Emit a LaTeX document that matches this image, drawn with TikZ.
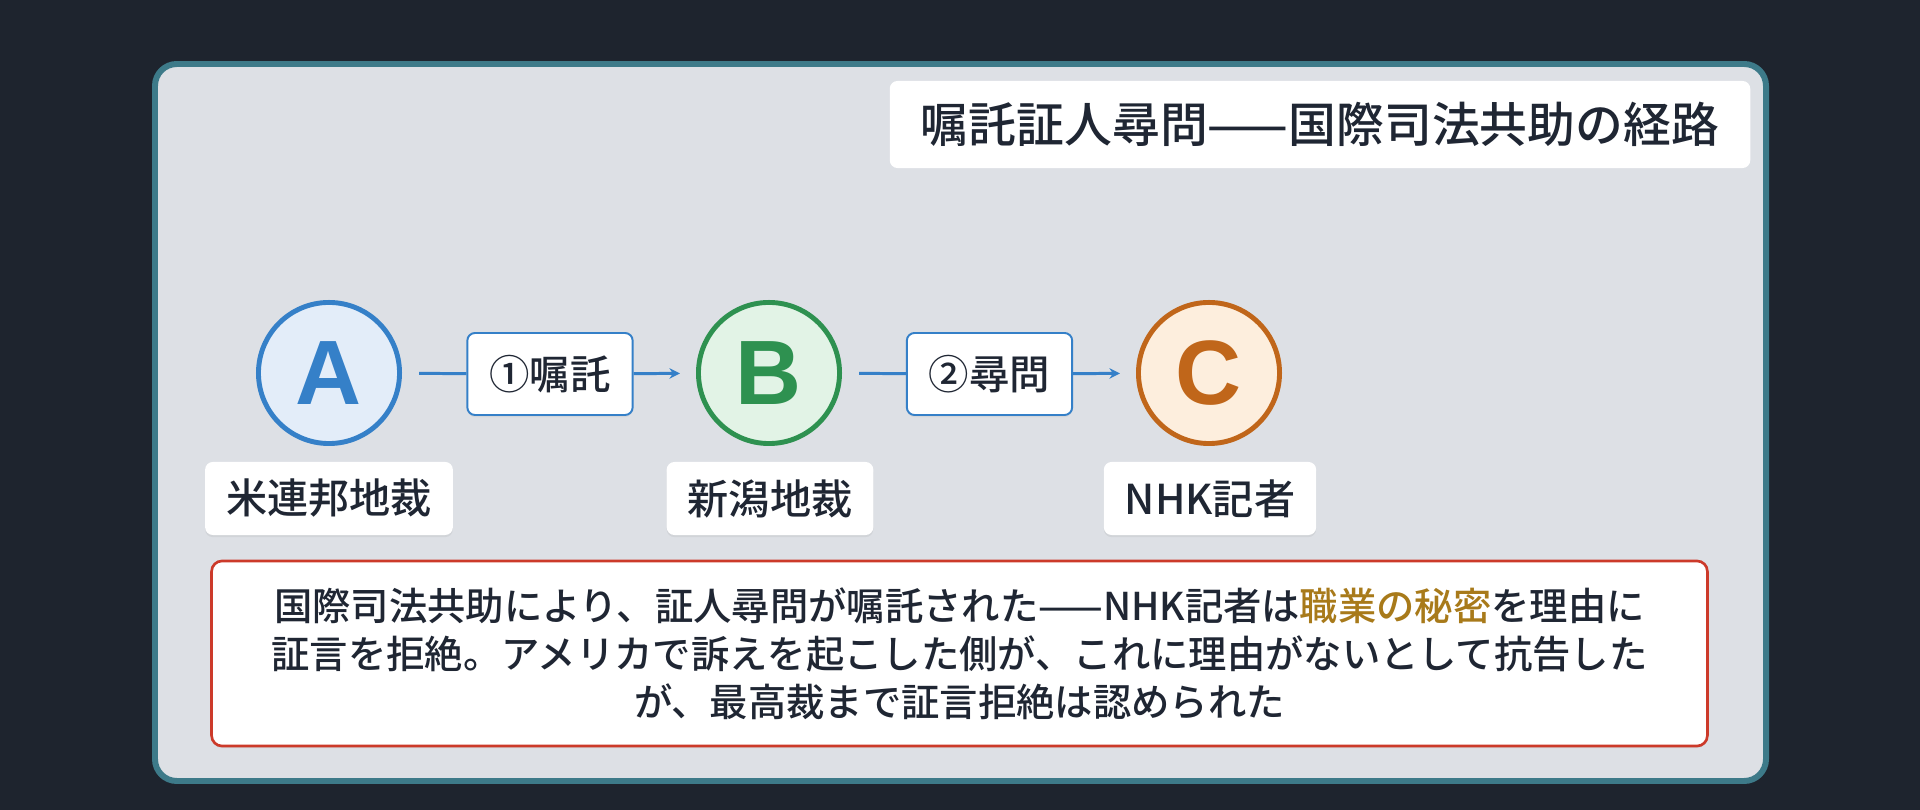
\documentclass[tikz,border=0pt]{standalone}
\usepackage{fontspec}
\setmainfont{Noto Sans CJK JP}[UprightFont={* Medium}]
\newfontfamily\letterfont{Liberation Sans}
\usetikzlibrary{positioning, arrows.meta, shadows}

\definecolor{bgdark}{HTML}{1E242E}
\definecolor{panelfill}{HTML}{DDE0E5}
\definecolor{panelline}{HTML}{3D7A89}
\definecolor{inkdark}{HTML}{1F2633}
\definecolor{blueline}{HTML}{3580C8}
\definecolor{bluefill}{HTML}{E3EDF9}
\definecolor{greenline}{HTML}{2E9150}
\definecolor{greenfill}{HTML}{E2F3E6}
\definecolor{orangeline}{HTML}{C0661A}
\definecolor{orangefill}{HTML}{FDEEDD}
\definecolor{noteline}{HTML}{CC3A2A}
\definecolor{keyword}{HTML}{A87A1A}

\tikzset{
  party/.style={circle, line width=1.4pt, minimum size=1.41cm, inner sep=0pt,
    font=\letterfont\fontsize{26}{30}\selectfont\bfseries},
  namebox/.style={rectangle, rounded corners=2.2pt, fill=white, text=inkdark,
    inner xsep=0.21cm, inner ysep=0pt, minimum height=0.73cm,
    font=\fontsize{11.7}{14}\selectfont,
    drop shadow={opacity=0.12, shadow xshift=0pt, shadow yshift=-0.6pt}},
  stagebox/.style={rectangle, rounded corners=2.2pt, fill=white, draw=blueline,
    line width=0.55pt, text=inkdark, inner xsep=0.22cm, inner ysep=0pt,
    minimum height=0.82cm, font=\fontsize{11.5}{14}\selectfont,
    drop shadow={opacity=0.10, shadow xshift=0pt, shadow yshift=-0.6pt}},
  flow/.style={draw=blueline, line width=0.85pt},
}

\begin{document}
\begin{tikzpicture}[x=0.01cm, y=-0.01cm]
  \useasboundingbox (0,0) rectangle (1920,810);
  \fill[bgdark] (0,0) rectangle (1920,810);

  % panel
  \draw[panelline, fill=panelfill, line width=1.7pt, rounded corners=6.2pt] (155,64) rectangle (1766,781);

  % title
  \node[rectangle, rounded corners=2.2pt, fill=white, text=inkdark, minimum width=8.6cm,
    minimum height=0.87cm, font=\fontsize{13.6}{16}\selectfont] (title) at (1320,124.5)
    {嘱託証人尋問——国際司法共助の経路};

  % parties
  \node[party, draw=blueline, fill=bluefill, text=blueline] (A) at (329,373) {A};
  \node[party, draw=greenline, fill=greenfill, text=greenline] (B) at (769,373) {B};
  \node[party, draw=orangeline, fill=orangefill, text=orangeline] (C) at (1209,373) {C};

  \node[namebox] (labA) at (329,498.5) {米連邦地裁};
  \node[namebox] (labB) at (770,498.5) {新潟地裁};
  \node[namebox] (labC) at (1210,498.5) {NHK記者};

  % stages
  \node[stagebox] (req) at (550,374) {①嘱託};
  \node[stagebox] (exam) at (989.5,374) {②尋問};

  \draw[flow, shorten <=0.17cm] (A) -- (req);
  \draw[flow, -{Stealth[length=3pt, width=3pt]}, shorten >=0.16cm] (req) -- (B);
  \draw[flow, shorten <=0.17cm] (B) -- (exam);
  \draw[flow, -{Stealth[length=3pt, width=3pt]}, shorten >=0.16cm] (exam) -- (C);

  % note
  \node[rectangle, rounded corners=3pt, fill=white, draw=noteline, line width=0.75pt,
    minimum width=14.95cm, minimum height=1.85cm, align=center, text=inkdark,
    font=\fontsize{10.9}{13.6}\selectfont,
    drop shadow={opacity=0.10, shadow xshift=0pt, shadow yshift=-0.6pt}] (note) at (959.5,653.5)
    {国際司法共助により、証人尋問が嘱託された——NHK記者は\textcolor{keyword}{職業の秘密}を理由に\\
     証言を拒絶。アメリカで訴えを起こした側が、これに理由がないとして抗告した\\
     が、最高裁まで証言拒絶は認められた};
\end{tikzpicture}
\end{document}
